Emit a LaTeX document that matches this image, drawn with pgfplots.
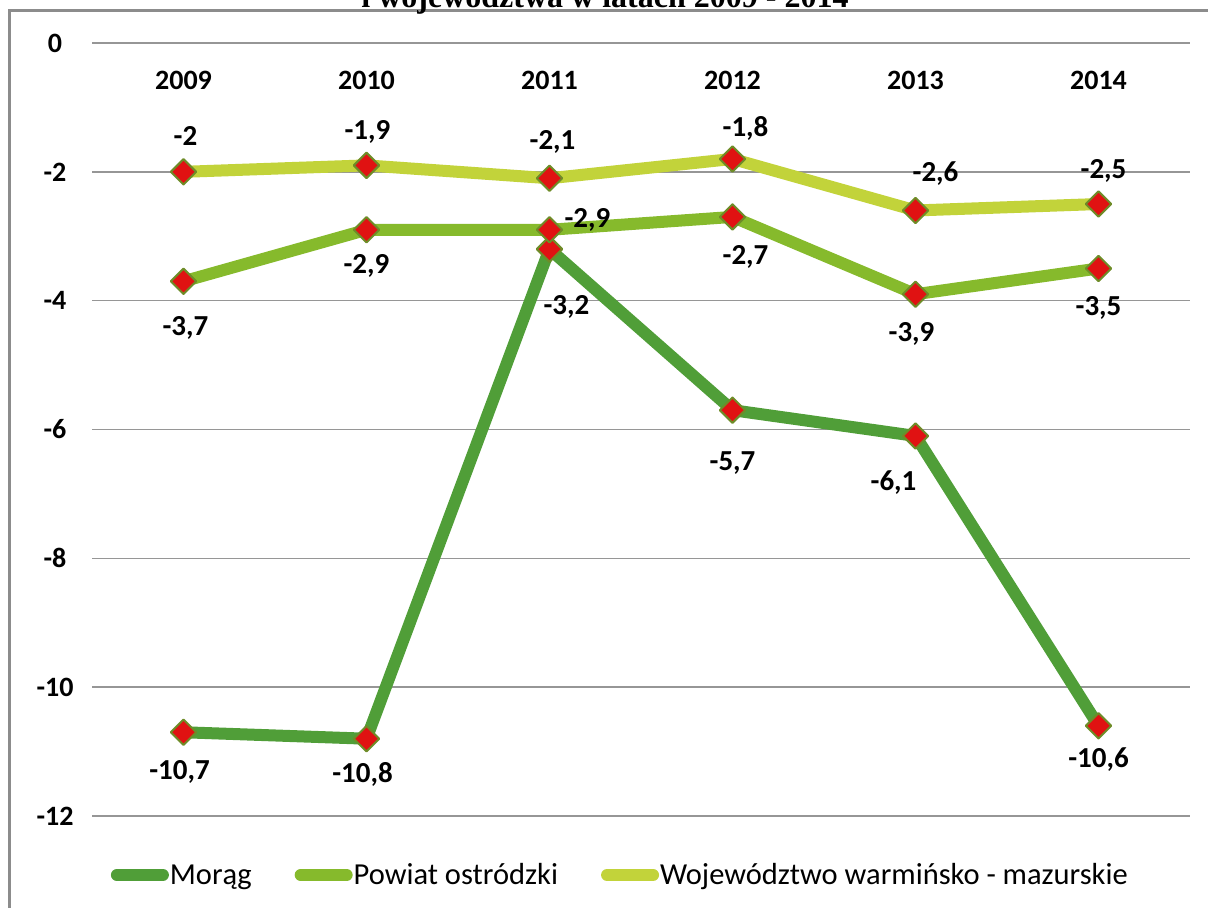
\documentclass[border=0pt]{standalone}
\usepackage{pgfplots}
\pgfplotsset{compat=1.18}
\usepackage{pgfplotstable}
\usepackage{fontspec}
\setmainfont{Carlito}
\newfontfamily\titlefont{Liberation Serif}

\definecolor{morag}{RGB}{80,158,56}
\definecolor{powiat}{RGB}{134,186,44}
\definecolor{wojew}{RGB}{194,211,58}
\definecolor{markred}{RGB}{224,18,18}
\definecolor{markedge}{RGB}{110,140,40}
\definecolor{gridc}{RGB}{150,150,150}
\definecolor{framec}{RGB}{140,140,140}

% x = year index (0 = 2009), dx/dy = label offset in pt
\pgfplotstableread{
x y dx dy
0 -10.7 -4 -40
1 -10.8 -4 -36
2 -3.2 17 -58
3 -5.7 0 -53
4 -6.1 -22 -47
5 -10.6 0 -34
}\moragtab

\pgfplotstableread{
x y dx dy
0 -3.7 2 -47
1 -2.9 0 -36
2 -2.9 38 10
3 -2.7 13 -40
4 -3.9 -4 -40
5 -3.5 0 -39
}\powiattab

\pgfplotstableread{
x y dx dy
0 -2 2 36
1 -1.9 1 33
2 -2.1 3 36
3 -1.8 13 30
4 -2.6 20 37
5 -2.5 5 33
}\wojewtab

\pgfplotsset{
  vals/.style={
    nodes near coords,
    visualization depends on={\thisrow{dx}\as\dx},
    visualization depends on={\thisrow{dy}\as\dy},
    nodes near coords style={anchor=center, xshift=\dx pt, yshift=\dy pt,
      text=black, font=\fontsize{29}{33}\selectfont\bfseries},
  },
}

\begin{document}
\begin{tikzpicture}[x=1pt,y=1pt]
\begin{axis}[
  at={(92pt,92pt)}, anchor=south west,
  width=1098pt, height=773pt, scale only axis,
  xmin=-0.5, xmax=5.5, ymin=-12, ymax=0,
  xtick={0,...,5}, xticklabels={2009,2010,2011,2012,2013,2014},
  ytick={-12,-10,...,0},
  xticklabel pos=upper,
  xticklabel style={anchor=center, yshift=-37pt},
  yticklabel style={anchor=center, xshift=-37pt},
  axis line style={draw=none},
  major tick length=0pt,
  ymajorgrids, grid style={gridc, line width=1.5pt},
  clip=false,
  tick label style={font=\fontsize{28}{32}\selectfont\bfseries},
  /pgf/number format/assume math mode=true,
  /pgf/number format/use comma,
  every axis plot/.append style={line width=12pt, line join=round,
    mark=square*, mark size=9pt,
    mark options={rotate=45, fill=markred, draw=markedge, line width=2pt}},
  legend columns=3,
  legend style={at={(0.478,-0.0763)}, anchor=center, draw=none, fill=none,
    font=\fontsize{30.5}{35}\selectfont,
    nodes={inner sep=1pt},
    /tikz/every odd column/.append style={column sep=-6pt},
    /tikz/every even column/.append style={column sep=36pt}},
  legend image code/.code={
    \path (0pt,0pt) (58pt,0pt);
    \draw[#1, line width=12pt, line cap=round] (6pt,0pt) -- (52pt,0pt);},
]
\addplot[color=morag, vals] table[x=x, y=y] {\moragtab};
\addlegendentry{Morąg}
\addplot[color=powiat, vals] table[x=x, y=y] {\powiattab};
\addlegendentry{Powiat ostródzki}
\addplot[color=wojew, vals] table[x=x, y=y] {\wojewtab};
\addlegendentry{Województwo warmińsko - mazurskie}
\end{axis}
\draw[framec, line width=3pt] (9,-20) -- (9,897) -- (1240,897);
\node[anchor=base, inner sep=0pt, font=\titlefont\bfseries\fontsize{32}{36}\selectfont]
  at (605,900) {i województwa w latach 2009 - 2014};
\pgfresetboundingbox
\path[use as bounding box] (0,0) rectangle (1208,908);
\end{tikzpicture}
\end{document}
